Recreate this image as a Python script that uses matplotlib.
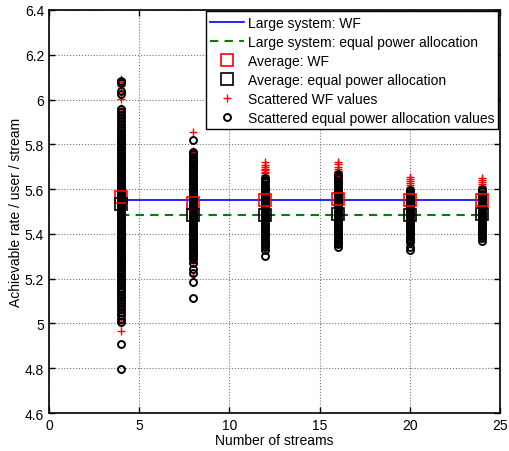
"""
Achievable rate per user per stream versus the number of streams,
large system approximation against simulated values (WF and equal power).
"""
import matplotlib
matplotlib.use('Agg')
import matplotlib.pyplot as plt

plt.rcParams['font.family'] = ['Liberation Sans', 'DejaVu Sans']

# Number of streams at which the simulations were done.
streams = [4, 8, 12, 16, 20, 24]

# Large system values (constant over the number of streams).
large_wf = 5.552
large_ep = 5.483

# Averages of the simulated values.
avg_wf = [5.567, 5.540, 5.552, 5.555, 5.552, 5.552]
avg_ep = [5.532, 5.483, 5.485, 5.487, 5.485, 5.489]

# Scattered WF values, one list for every number of streams.
wf_4 = [6.092, 6.080, 6.062, 6.031, 6.003, 5.962, 5.951, 5.922, 5.903, 5.884,
        5.861, 5.84, 5.82, 5.80, 5.78, 5.76, 5.74, 5.72, 5.70, 5.68, 5.66, 5.64,
        5.62, 5.60, 5.58, 5.56, 5.54, 5.52, 5.50, 5.48, 5.46, 5.44, 5.42, 5.40,
        5.38, 5.36, 5.34, 5.32, 5.30, 5.28, 5.26, 5.24, 5.22, 5.20, 5.18, 5.16,
        5.14, 5.12, 5.10, 5.08, 5.06, 5.04, 5.02, 5.00, 4.968]
wf_8 = [5.854, 5.772, 5.766, 5.75, 5.73, 5.71, 5.69, 5.67, 5.65, 5.63, 5.61,
        5.59, 5.57, 5.55, 5.53, 5.51, 5.49, 5.47, 5.45, 5.43, 5.41, 5.39, 5.37,
        5.35, 5.33, 5.31, 5.27, 5.217]
wf_12 = [5.720, 5.708, 5.698, 5.692, 5.684, 5.677, 5.670, 5.663, 5.656, 5.65,
         5.63, 5.61, 5.59, 5.57, 5.55, 5.53, 5.51, 5.49, 5.47, 5.45, 5.43, 5.41,
         5.39, 5.37]
wf_16 = [5.720, 5.710, 5.700, 5.690, 5.683, 5.676, 5.668, 5.66, 5.64, 5.62,
         5.60, 5.58, 5.56, 5.54, 5.52, 5.50, 5.48, 5.46, 5.44, 5.42, 5.40, 5.38]
wf_20 = [5.653, 5.645, 5.636, 5.627, 5.618, 5.610, 5.602, 5.59, 5.57, 5.55,
         5.53, 5.51, 5.49, 5.47, 5.45, 5.43, 5.41, 5.40]
wf_24 = [5.649, 5.641, 5.633, 5.624, 5.615, 5.607, 5.600, 5.59, 5.57, 5.55,
         5.53, 5.51, 5.49, 5.47, 5.45, 5.43, 5.41, 5.40]

# Scattered equal power allocation values.
ep_4 = [6.085, 6.072, 6.040, 6.026, 5.958, 5.946, 5.931, 5.918, 5.905, 5.889,
        5.876, 5.862, 5.85, 5.84, 5.83, 5.82, 5.81, 5.80, 5.79, 5.78, 5.77, 5.76,
        5.75, 5.74, 5.73, 5.72, 5.71, 5.70, 5.69, 5.68, 5.67, 5.66, 5.65, 5.64,
        5.63, 5.62, 5.61, 5.60, 5.59, 5.58, 5.57, 5.56, 5.55, 5.54, 5.53, 5.52,
        5.51, 5.50, 5.49, 5.48, 5.47, 5.46, 5.45, 5.44, 5.43, 5.42, 5.41, 5.40,
        5.39, 5.38, 5.37, 5.36, 5.35, 5.34, 5.33, 5.32, 5.31, 5.30, 5.29, 5.28,
        5.27, 5.26, 5.25, 5.24, 5.23, 5.22, 5.21, 5.20, 5.19, 5.18, 5.17, 5.16,
        5.15, 5.14, 5.128, 5.117, 5.103, 5.090, 5.078, 5.064, 5.051, 5.037,
        5.022, 5.008, 4.909, 4.797]
ep_8 = [5.820, 5.765, 5.755, 5.745, 5.735, 5.725, 5.715, 5.705, 5.695, 5.685,
        5.675, 5.665, 5.655, 5.645, 5.635, 5.625, 5.615, 5.605, 5.595, 5.585,
        5.575, 5.565, 5.555, 5.545, 5.535, 5.525, 5.515, 5.505, 5.495, 5.485,
        5.475, 5.465, 5.455, 5.445, 5.435, 5.425, 5.415, 5.405, 5.395, 5.385,
        5.375, 5.365, 5.355, 5.345, 5.335, 5.325, 5.315, 5.305, 5.296, 5.288,
        5.270, 5.244, 5.226, 5.184, 5.113]
ep_12 = [5.650, 5.640, 5.630, 5.620, 5.610, 5.600, 5.590, 5.580, 5.570, 5.560,
         5.550, 5.540, 5.530, 5.520, 5.510, 5.500, 5.490, 5.480, 5.470, 5.460,
         5.450, 5.440, 5.430, 5.420, 5.410, 5.400, 5.390, 5.380, 5.370, 5.360,
         5.350, 5.342, 5.326, 5.303]
ep_16 = [5.668, 5.658, 5.648, 5.638, 5.628, 5.618, 5.608, 5.598, 5.588, 5.578,
         5.568, 5.558, 5.548, 5.538, 5.528, 5.518, 5.508, 5.498, 5.488, 5.478,
         5.468, 5.458, 5.448, 5.438, 5.428, 5.418, 5.408, 5.398, 5.388, 5.378,
         5.368, 5.360, 5.355, 5.340]
ep_20 = [5.598, 5.588, 5.578, 5.568, 5.558, 5.548, 5.538, 5.528, 5.518, 5.508,
         5.498, 5.488, 5.478, 5.468, 5.458, 5.448, 5.438, 5.428, 5.418, 5.408,
         5.398, 5.388, 5.378, 5.370, 5.363, 5.340, 5.326]
ep_24 = [5.600, 5.590, 5.580, 5.570, 5.560, 5.550, 5.540, 5.530, 5.520, 5.510,
         5.500, 5.490, 5.480, 5.470, 5.460, 5.450, 5.440, 5.430, 5.420, 5.410,
         5.400, 5.390, 5.380, 5.370]

wf_scatter = [wf_4, wf_8, wf_12, wf_16, wf_20, wf_24]
ep_scatter = [ep_4, ep_8, ep_12, ep_16, ep_20, ep_24]

fig = plt.figure(figsize=(5.09, 4.52), dpi=100)
ax = fig.add_axes([0.0963, 0.084, 0.8857, 0.8917])

# Large system lines over the simulated range.
ax.plot([streams[0], streams[-1]], [large_wf, large_wf], color='blue',
        linewidth=1.2, label='Large system: WF', zorder=2)
ax.plot([streams[0], streams[-1]], [large_ep, large_ep], '--', color=(0, 0.5, 0),
        linewidth=1.5, dashes=(4, 3), label='Large system: equal power allocation', zorder=2)

# Scattered values, WF first so the circles end up on top.
for i, n in enumerate(streams):
    ax.plot([n] * len(wf_scatter[i]), wf_scatter[i], '+', color='red',
            markersize=6, markeredgewidth=1.0, linestyle='none', zorder=3,
            label='Scattered WF values' if i == 0 else None)
for i, n in enumerate(streams):
    ax.plot([n] * len(ep_scatter[i]), ep_scatter[i], 'o', color='black',
            markerfacecolor='none', markersize=5, markeredgewidth=1.4,
            linestyle='none', zorder=4,
            label='Scattered equal power allocation values' if i == 0 else None)

# Averages as squares.
ax.plot(streams, avg_wf, 's', markerfacecolor='none', markeredgecolor='red',
        markersize=9, markeredgewidth=1.2, linestyle='none', zorder=5, label='Average: WF')
ax.plot(streams, avg_ep, 's', markerfacecolor='none', markeredgecolor='black',
        markersize=9, markeredgewidth=1.2, linestyle='none', zorder=5,
        label='Average: equal power allocation')

ax.set_xlim(0, 25)
ax.set_ylim(4.6, 6.4)
ax.set_xticks([0, 5, 10, 15, 20, 25])
ax.set_yticks([4.6, 4.8, 5.0, 5.2, 5.4, 5.6, 5.8, 6.0, 6.2, 6.4])
ax.set_yticklabels(['4.6', '4.8', '5', '5.2', '5.4', '5.6', '5.8', '6', '6.2', '6.4'])
ax.tick_params(direction='in', top=True, right=True, labelsize=10, length=4, width=1)
for side in ax.spines.values():
    side.set_linewidth(1.2)
ax.grid(True, linestyle=':', color='0.45', linewidth=0.8)
ax.set_axisbelow(True)

ax.set_xlabel('Number of streams', fontsize=10, labelpad=1)
ax.set_ylabel('Achievable rate / user / stream', fontsize=10, labelpad=1)

# Legend in the same order as the reference.
handles, labels = ax.get_legend_handles_labels()
order = ['Large system: WF', 'Large system: equal power allocation', 'Average: WF',
         'Average: equal power allocation', 'Scattered WF values',
         'Scattered equal power allocation values']
hl = dict(zip(labels, handles))
leg = ax.legend([hl[k] for k in order], order, loc='upper right', fontsize=10,
                frameon=True, fancybox=False, framealpha=1, edgecolor='black',
                borderaxespad=0.1, handlelength=2.4, handletextpad=0.3,
                labelspacing=0.36, borderpad=0.3)
leg.get_frame().set_linewidth(1.0)

plt.savefig('out.png', dpi=100)
